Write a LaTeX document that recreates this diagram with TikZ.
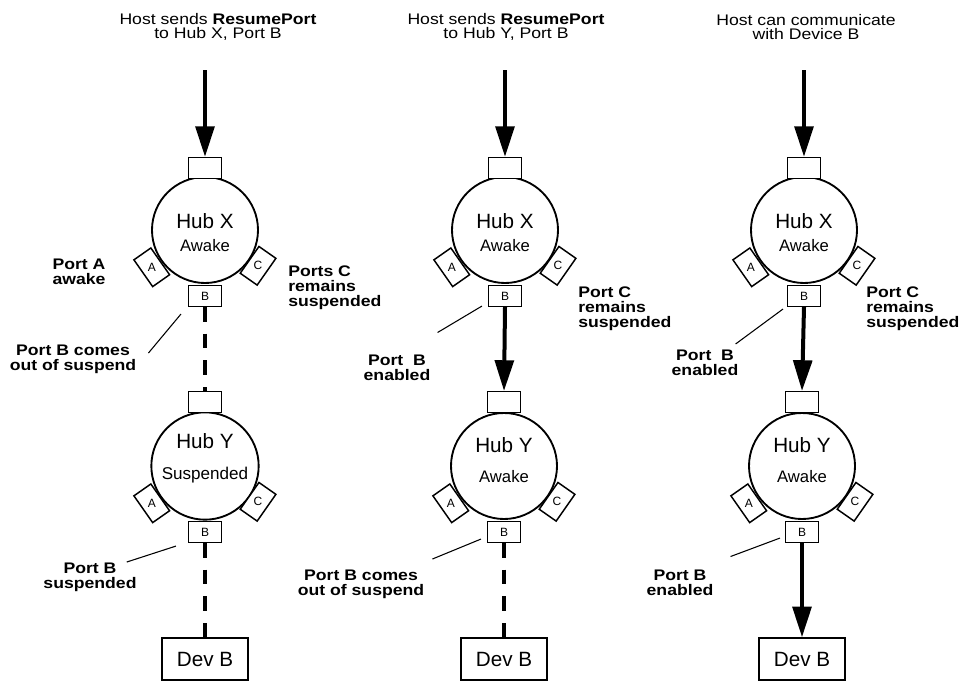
\documentclass[tikz,border=0pt]{standalone}
\usepackage{fontspec}
\setmainfont{Liberation Sans}
\newfontfamily\widesans[FakeStretch=1.15]{Liberation Sans}
\usetikzlibrary{arrows.meta, positioning, calc}

\begin{document}
\begin{tikzpicture}[x=0.75pt,y=0.75pt,
  hub/.style={draw,circle,line width=1.4pt,minimum size=79.5pt,inner sep=0pt,align=center,font=\fontsize{15.5}{17}\selectfont},
  port/.style={draw,fill=white,line width=1.1pt,minimum width=24.5pt,minimum height=15.5pt,inner sep=0pt,font=\fontsize{9}{10}\selectfont},
  dev/.style={draw,line width=1.1pt,minimum width=64.5pt,minimum height=31.5pt,inner sep=0pt,font=\fontsize{15.5}{18}\selectfont},
  title/.style={align=center,inner sep=0pt,font=\widesans\fontsize{11.5}{10.5}\selectfont},
  note/.style={align=center,inner sep=0pt,font=\widesans\bfseries\fontsize{11.5}{11.3}\selectfont},
  bus/.style={line width=3pt,-{Triangle[length=23pt,width=14pt]}},
  idle/.style={line width=3pt,dash pattern=on 11pt off 9pt},
  leader/.style={line width=0.8pt}]
  \useasboundingbox (0,0) rectangle (960,-682);

  % first step: Hub X resumes port B
  \node[title] (t1) at (218,-27) {Host sends \textbf{ResumePort}\\to Hub X, Port B};
  \coordinate (in1) at (205,-70);
  \node[hub] (hx1) at (205,-230) {\mbox{}\\[-1.5pt]Hub X\\{\fontsize{12.5}{15}\selectfont Awake}};
  \node[port] (xt1) at ($(hx1)+(90:62)$) {};
  \node[port] (xb1) at ($(hx1)+(270:66)$) {B};
  \node[port,rotate=-55] (xa1) at ($(hx1)+(215:65)$) {\rotatebox{55}{A}};
  \node[port,rotate=55] (xc1) at ($(hx1)+(326:64)$) {\rotatebox{-55}{C}};
  \node[hub] (hy1) at (205,-466) {Hub Y\\[6pt]{\fontsize{12.8}{15}\selectfont Suspended}\\[-3pt]\mbox{}};
  \node[port] (yt1) at ($(hy1)+(90:64)$) {};
  \node[port] (yb1) at ($(hy1)+(270:66)$) {B};
  \node[port,rotate=-55] (ya1) at ($(hy1)+(215:65)$) {\rotatebox{55}{A}};
  \node[port,rotate=55] (yc1) at ($(hy1)+(326:64)$) {\rotatebox{-55}{C}};
  \node[dev] (dv1) at (205,-659) {Dev B};
  \node[note] (na1) at (79,-272) {Port A\\awake};
  \node[note,align=left,anchor=west] (nc1) at (288,-288) {Ports C\\remains\\suspended};
  \node[note] (nb1) at (73,-359) {Port B comes\\out of suspend};
  \node[note] (ns1) at (90,-577) {Port B\\suspended};
  \draw[bus] (in1) -- (xt1.north);
  \draw[idle] (xb1.south) -- (yt1.north);
  \draw[idle] (yb1.south) -- (dv1.north);
  \draw[leader] ($(xb1.south west)+(-7,-7)$) -- ($(nb1.east)+(12,6)$);
  \draw[leader] ($(yb1.south west)+(-12,-3)$) -- ($(ns1.east)+(-10,15)$);

  % second step: Hub Y resumes port B
  \node[title] (t2) at (506,-27) {Host sends \textbf{ResumePort}\\to Hub Y, Port B};
  \coordinate (in2) at (505,-70);
  \node[hub] (hx2) at (505,-230) {\mbox{}\\[-1.5pt]Hub X\\{\fontsize{12.5}{15}\selectfont Awake}};
  \node[port] (xt2) at ($(hx2)+(90:62)$) {};
  \node[port] (xb2) at ($(hx2)+(270:66)$) {B};
  \node[port,rotate=-55] (xa2) at ($(hx2)+(215:65)$) {\rotatebox{55}{A}};
  \node[port,rotate=55] (xc2) at ($(hx2)+(326:64)$) {\rotatebox{-55}{C}};
  \node[hub] (hy2) at (504,-466) {Hub Y\\[6pt]{\fontsize{12.5}{15}\selectfont Awake}\\[-8pt]\mbox{}};
  \node[port] (yt2) at ($(hy2)+(90:64)$) {};
  \node[port] (yb2) at ($(hy2)+(270:66)$) {B};
  \node[port,rotate=-55] (ya2) at ($(hy2)+(215:65)$) {\rotatebox{55}{A}};
  \node[port,rotate=55] (yc2) at ($(hy2)+(326:64)$) {\rotatebox{-55}{C}};
  \node[dev] (dv2) at (504,-659) {Dev B};
  \node[note,align=left,anchor=west] (nc2) at (578,-308.5) {Port C\\remains\\suspended};
  \node[note] (ne2) at (397,-367.5) {Port\ \ B\\enabled};
  \node[note] (nb2) at (361,-584) {Port B comes\\out of suspend};
  \draw[bus] (in2) -- (xt2.north);
  \draw[bus] (xb2.south) -- (yt2.north);
  \draw[idle] (yb2.south) -- (dv2.north);
  \draw[leader] ($(xb2.south west)+(-6,1)$) -- ($(ne2.east)+(7,35)$);
  \draw[leader] ($(yb2.south west)+(-6,4)$) -- ($(nb2.east)+(8,25)$);

  % third step: path to device B is open
  \node[title] (t3) at (806,-27) {Host can communicate\\with Device B};
  \coordinate (in3) at (804,-70);
  \node[hub] (hx3) at (804,-230) {\mbox{}\\[-1.5pt]Hub X\\{\fontsize{12.5}{15}\selectfont Awake}};
  \node[port] (xt3) at ($(hx3)+(90:62)$) {};
  \node[port] (xb3) at ($(hx3)+(270:66)$) {B};
  \node[port,rotate=-55] (xa3) at ($(hx3)+(215:65)$) {\rotatebox{55}{A}};
  \node[port,rotate=55] (xc3) at ($(hx3)+(326:64)$) {\rotatebox{-55}{C}};
  \node[hub] (hy3) at (802,-466) {Hub Y\\[6pt]{\fontsize{12.5}{15}\selectfont Awake}\\[-8pt]\mbox{}};
  \node[port] (yt3) at ($(hy3)+(90:64)$) {};
  \node[port] (yb3) at ($(hy3)+(270:66)$) {B};
  \node[port,rotate=-55] (ya3) at ($(hy3)+(215:65)$) {\rotatebox{55}{A}};
  \node[port,rotate=55] (yc3) at ($(hy3)+(326:64)$) {\rotatebox{-55}{C}};
  \node[dev] (dv3) at (802,-659) {Dev B};
  \node[note,align=left,anchor=west] (nc3) at (866,-308.5) {Port C\\remains\\suspended};
  \node[note] (ne3) at (705,-363) {Port\ \ B\\enabled};
  \node[note] (nn3) at (680,-582.5) {Port B\\enabled};
  \draw[bus] (in3) -- (xt3.north);
  \draw[bus] (xb3.south) -- (yt3.north);
  \draw[bus] (yb3.south) -- (dv3.north);
  \draw[leader] ($(xb3.south west)+(-4,-2)$) -- ($(ne3.east)+(-3,19)$);
  \draw[leader] ($(yb3.south west)+(-5,5)$) -- ($(nn3.east)+(17,26)$);
\end{tikzpicture}
\end{document}
